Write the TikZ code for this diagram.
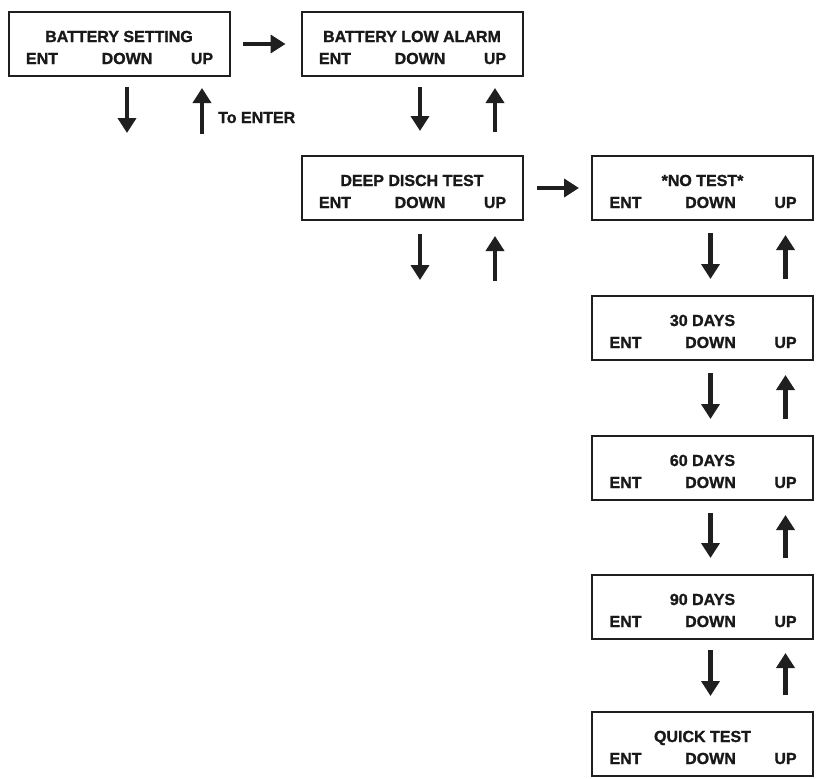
\documentclass[tikz,border=0pt]{standalone}
\usepackage{fontspec}
\setmainfont{Liberation Sans}
\newfontfamily\heavyfont{Liberation Sans Bold}[FakeBold=1.3]
\usetikzlibrary{arrows.meta}
\begin{document}
\begin{tikzpicture}[x=1pt,y=-1pt,
  box/.style={draw=black!88,line width=2pt,minimum width=221pt,minimum height=64pt,inner sep=0pt},
  lbl/.style={anchor=base,inner sep=0pt,text=black!90,font=\heavyfont\fontsize{16}{18}\selectfont},
  arr/.style={draw=black!88,line width=4.5pt,-{Triangle[length=15pt,width=18pt]}}]
\useasboundingbox (0,0) rectangle (823,779);
\node[box] (set) at (119,44) {};
\node[lbl] (sett) at ([yshift=2pt]set.center) {BATTERY SETTING};
\node[lbl] (sete) at ([xshift=-77pt,yshift=-20pt]set.center) {ENT};
\node[lbl] (setd) at ([xshift=8pt,yshift=-20pt]set.center) {DOWN};
\node[lbl] (setu) at ([xshift=83pt,yshift=-20pt]set.center) {UP};
\node[box] (low) at (412,44) {};
\node[lbl] (lowt) at ([yshift=2pt]low.center) {BATTERY LOW ALARM};
\node[lbl] (lowe) at ([xshift=-77pt,yshift=-20pt]low.center) {ENT};
\node[lbl] (lowd) at ([xshift=8pt,yshift=-20pt]low.center) {DOWN};
\node[lbl] (lowu) at ([xshift=83pt,yshift=-20pt]low.center) {UP};
\node[box] (deep) at (412,188) {};
\node[lbl] (deept) at ([yshift=2pt]deep.center) {DEEP DISCH TEST};
\node[lbl] (deepe) at ([xshift=-77pt,yshift=-20pt]deep.center) {ENT};
\node[lbl] (deepd) at ([xshift=8pt,yshift=-20pt]deep.center) {DOWN};
\node[lbl] (deepu) at ([xshift=83pt,yshift=-20pt]deep.center) {UP};
\node[box] (none) at (702.5,188) {};
\node[lbl] (nonet) at ([yshift=2pt]none.center) {*NO TEST*};
\node[lbl] (nonee) at ([xshift=-77pt,yshift=-20pt]none.center) {ENT};
\node[lbl] (noned) at ([xshift=8pt,yshift=-20pt]none.center) {DOWN};
\node[lbl] (noneu) at ([xshift=83pt,yshift=-20pt]none.center) {UP};
\node[box] (dthirty) at (702.5,328) {};
\node[lbl] (dthirtyt) at ([yshift=2pt]dthirty.center) {30 DAYS};
\node[lbl] (dthirtye) at ([xshift=-77pt,yshift=-20pt]dthirty.center) {ENT};
\node[lbl] (dthirtyd) at ([xshift=8pt,yshift=-20pt]dthirty.center) {DOWN};
\node[lbl] (dthirtyu) at ([xshift=83pt,yshift=-20pt]dthirty.center) {UP};
\node[box] (dsixty) at (702.5,468) {};
\node[lbl] (dsixtyt) at ([yshift=2pt]dsixty.center) {60 DAYS};
\node[lbl] (dsixtye) at ([xshift=-77pt,yshift=-20pt]dsixty.center) {ENT};
\node[lbl] (dsixtyd) at ([xshift=8pt,yshift=-20pt]dsixty.center) {DOWN};
\node[lbl] (dsixtyu) at ([xshift=83pt,yshift=-20pt]dsixty.center) {UP};
\node[box] (dninety) at (702.5,607) {};
\node[lbl] (dninetyt) at ([yshift=2pt]dninety.center) {90 DAYS};
\node[lbl] (dninetye) at ([xshift=-77pt,yshift=-20pt]dninety.center) {ENT};
\node[lbl] (dninetyd) at ([xshift=8pt,yshift=-20pt]dninety.center) {DOWN};
\node[lbl] (dninetyu) at ([xshift=83pt,yshift=-20pt]dninety.center) {UP};
\node[box] (quick) at (702.5,744) {};
\node[lbl] (quickt) at ([yshift=2pt]quick.center) {QUICK TEST};
\node[lbl] (quicke) at ([xshift=-77pt,yshift=-20pt]quick.center) {ENT};
\node[lbl] (quickd) at ([xshift=8pt,yshift=-20pt]quick.center) {DOWN};
\node[lbl] (quicku) at ([xshift=83pt,yshift=-20pt]quick.center) {UP};
\node[lbl,anchor=base west] (enter) at (218,123) {To ENTER};
\draw[arr,shorten <=12pt,shorten >=15pt] (set) -- (low);
\draw[arr] ([yshift=-10pt]setd |- set.south) -- ++(0,46);
\draw[arr] ([yshift=-57pt]setu |- set.south) -- ++(0,-46);
\draw[arr,shorten <=10pt,shorten >=24pt] (lowd |- low.south) -- (lowd |- deep.north);
\draw[arr,shorten <=23pt,shorten >=11pt] (lowu |- deep.north) -- (lowu |- low.south);
\draw[arr,shorten <=13pt,shorten >=12pt] (deep) -- (none);
\draw[arr] ([yshift=-13pt]deepd |- deep.south) -- ++(0,46);
\draw[arr] ([yshift=-60pt]deepu |- deep.south) -- ++(0,-45);
\draw[arr,shorten <=12pt,shorten >=16pt] (noned |- none.south) -- (noned |- dthirty.north);
\draw[arr,shorten <=16pt,shorten >=14pt] (noneu |- dthirty.north) -- (noneu |- none.south);
\draw[arr,shorten <=12pt,shorten >=16pt] (dthirtyd |- dthirty.south) -- (dthirtyd |- dsixty.north);
\draw[arr,shorten <=16pt,shorten >=14pt] (dthirtyu |- dsixty.north) -- (dthirtyu |- dthirty.south);
\draw[arr,shorten <=12pt,shorten >=16pt] (dsixtyd |- dsixty.south) -- (dsixtyd |- dninety.north);
\draw[arr,shorten <=16pt,shorten >=14pt] (dsixtyu |- dninety.north) -- (dsixtyu |- dsixty.south);
\draw[arr,shorten <=10pt,shorten >=15pt] (dninetyd |- dninety.south) -- (dninetyd |- quick.north);
\draw[arr,shorten <=16pt,shorten >=13pt] (dninetyu |- quick.north) -- (dninetyu |- dninety.south);
\end{tikzpicture}
\end{document}
